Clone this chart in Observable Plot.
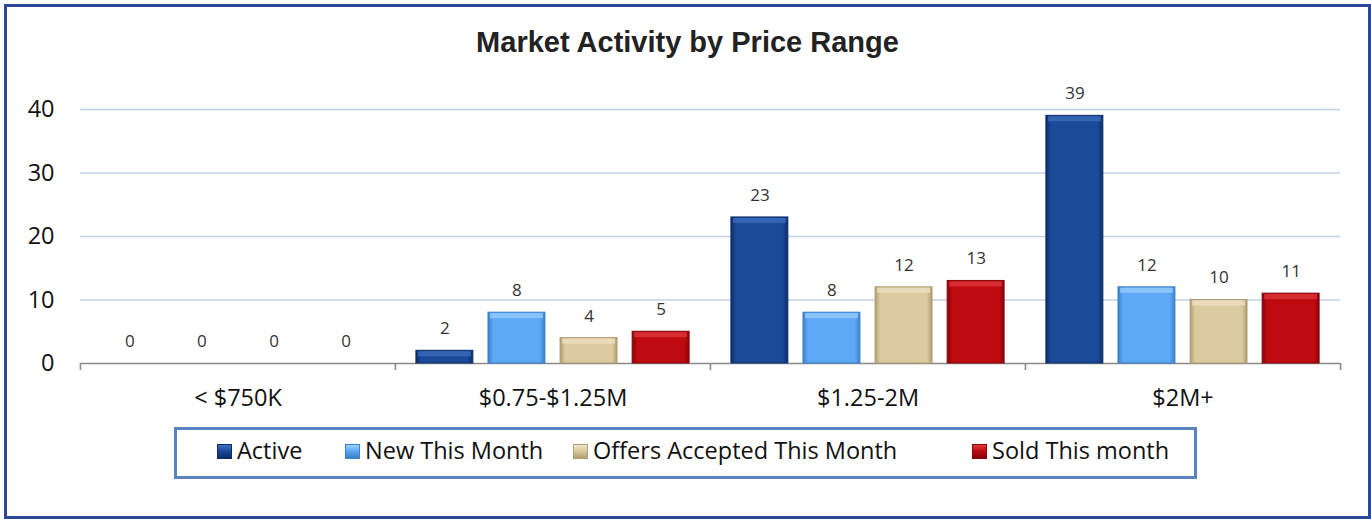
<!DOCTYPE html>
<html>
<head>
<meta charset="utf-8">
<script src="https://cdn.jsdelivr.net/npm/d3@7"></script>
<script src="https://cdn.jsdelivr.net/npm/@observablehq/plot@0.6"></script>
<style>
  html, body { margin: 0; padding: 0; background: #fff; }
  #page { position: relative; width: 1371px; height: 519px; overflow: hidden; background: #fff; font-family: "Open Sans", sans-serif; color: #111; }
  #border { position: absolute; left: 4px; top: 4px; width: 1367px; height: 515px; border: 3px solid #2d4896; box-sizing: border-box; }
  #title { position: absolute; left: 4px; top: 28px; width: 1367px; text-align: center; font: bold 29px/29px "Liberation Sans", Arial, sans-serif; color: #222; }
  #chart { position: absolute; left: 0; top: 80px; }
  #legend { position: absolute; left: 174px; top: 427px; width: 1023px; height: 52px; border: 3px solid #5884bf; box-sizing: border-box; }
  .sw { position: absolute; top: 444px; width: 15px; height: 15px; box-sizing: border-box; }
  .lt { position: absolute; top: 439px; font-size: 23.5px; line-height: 23.5px; white-space: nowrap; color: #111; }
</style>
</head>
<body>
<div id="page">
  <div id="border"></div>
  <div id="title"></div>
  <div id="chart"></div>
  <div id="legend"></div>
</div>
<script>
const title = "Market Activity by Price Range";
const groups = ["< $750K", "$0.75-$1.25M", "$1.25-2M", "$2M+"];
const seriesNames = ["Active", "New This Month", "Offers Accepted This Month", "Sold This month"];
const active = [0, 2, 23, 39];
const newThisMonth = [0, 8, 8, 12];
const offersAccepted = [0, 4, 12, 10];
const soldThisMonth = [0, 5, 13, 11];
const yTicks = [0, 10, 20, 30, 40];

const baseColors = ["#1b4a99", "#5fa8f6", "#dccaa0", "#bf0b10"];
const darkColors = ["#0c2c6a", "#3a80cc", "#b09d72", "#85050a"];
const lightColors = ["#3f70c0", "#9dd2fc", "#efe4c6", "#e03a40"];
const legendX = [217, 345, 573, 972];

const seriesValues = [active, newThisMonth, offersAccepted, soldThisMonth];
const table = [];
groups.forEach((g, gi) => {
  seriesNames.forEach((s, si) => {
    table.push({group: g, series: s, value: seriesValues[si][gi]});
  });
});

document.getElementById("title").textContent = title;

// layout of bands inside each facet
const W = 1371, mL = 79, mR = 30;
const facetW = (W - mL - mR) / groups.length;
const pInner = 0.21, pOuter = 0.29;
const step = facetW / (seriesNames.length - pInner + 2 * pOuter);
const bw = step * (1 - pInner);
const edgeOffset = step * pOuter + bw / 2;

const plot = Plot.plot({
  width: W,
  height: 340,
  marginLeft: mL,
  marginRight: mR,
  marginTop: 29,
  marginBottom: 57,
  style: {fontFamily: "Open Sans, sans-serif", fontSize: "16px", color: "#111", background: "transparent", overflow: "visible"},
  fx: {domain: groups, padding: 0, label: null},
  x: {domain: seriesNames, paddingInner: pInner, paddingOuter: pOuter, round: false, axis: null},
  y: {domain: [0, 40], label: null},
  color: {domain: seriesNames, range: baseColors},
  marks: [
    Plot.gridY(yTicks.filter(d => d > 0), {stroke: "#bfd2ea", strokeOpacity: 1, strokeWidth: 1.6}),
    Plot.axisY({ticks: yTicks, tickSize: 0, tickPadding: 26, fontSize: 23.5, label: null, tickFormat: d => String(d)}),
    Plot.axisFx({anchor: "bottom", tickSize: 0, tickPadding: 26, fontSize: 23.5, label: null}),
    Plot.ruleY([0], {stroke: "#8a8a8a", strokeWidth: 1.6}),
    Plot.ruleX(groups.map(g => ({group: g})), {fx: "group", x: () => seriesNames[0], y1: 0, y2: 0, insetBottom: -7, dx: -edgeOffset, stroke: "#8a8a8a", strokeWidth: 1.6}),
    Plot.ruleX(groups.slice(-1).map(g => ({group: g})), {fx: "group", x: () => seriesNames[seriesNames.length - 1], y1: 0, y2: 0, insetBottom: -7, dx: edgeOffset, stroke: "#8a8a8a", strokeWidth: 1.6}),
    Plot.barY(table, {fx: "group", x: "series", y: "value", fill: "series", stroke: (d) => darkColors[seriesNames.indexOf(d.series)], strokeWidth: 1}),
    ...seriesNames.map((s, si) => Plot.barY(table.filter(d => d.series === s && d.value > 0), {
      fx: "group", x: "series", y1: "value", y2: "value", insetBottom: -6, insetLeft: 2, insetRight: 2, insetTop: 1,
      fill: lightColors[si], fillOpacity: 0.7
    })),
    Plot.text(table, {fx: "group", x: "series", y: "value", text: d => String(d.value), dy: -22, fontSize: 17, fill: "#333"})
  ]
});

// bevel-like horizontal gradients on the bars
const svg = d3.select(plot.tagName.toLowerCase() === "svg" ? plot : plot.querySelector("svg"));
const defs = svg.insert("defs", ":first-child");
baseColors.forEach((c, i) => {
  const g = defs.append("linearGradient").attr("id", "bev" + i).attr("x1", "0").attr("x2", "1").attr("y1", "0").attr("y2", "0");
  g.append("stop").attr("offset", "0%").attr("stop-color", darkColors[i]);
  g.append("stop").attr("offset", "9%").attr("stop-color", c);
  g.append("stop").attr("offset", "91%").attr("stop-color", c);
  g.append("stop").attr("offset", "100%").attr("stop-color", darkColors[i]);
});
const colorMap = new Map(baseColors.map((c, i) => [d3.color(c).formatHex(), i]));
svg.selectAll("g[aria-label='bar'] rect").each(function () {
  const f = this.getAttribute("fill");
  if (!f) return;
  const c = d3.color(f);
  if (!c) return;
  const i = colorMap.get(c.formatHex());
  if (i !== undefined && this.getAttribute("fill-opacity") == null) this.setAttribute("fill", `url(#bev${i})`);
});

document.getElementById("chart").appendChild(plot);

// legend
const page = document.getElementById("page");
seriesNames.forEach((s, i) => {
  const sw = document.createElement("div");
  sw.className = "sw";
  sw.style.left = legendX[i] + "px";
  sw.style.background = `linear-gradient(180deg, ${lightColors[i]} 0%, ${baseColors[i]} 45%, ${darkColors[i]} 100%)`;
  sw.style.border = `1px solid ${darkColors[i]}`;
  page.appendChild(sw);
  const t = document.createElement("div");
  t.className = "lt";
  t.style.left = (legendX[i] + 20) + "px";
  t.textContent = s;
  page.appendChild(t);
});
</script>
</body>
</html>
